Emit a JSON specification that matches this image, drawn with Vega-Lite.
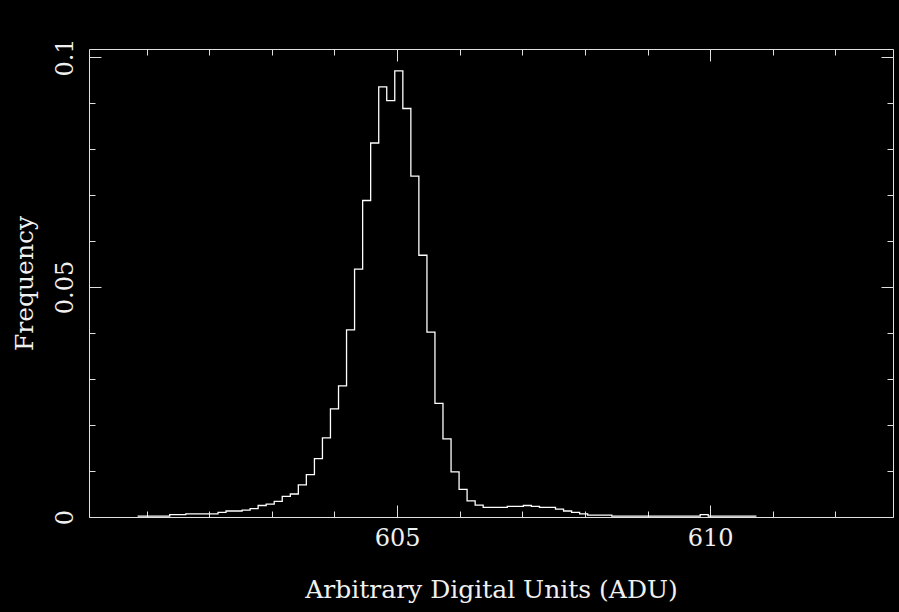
{
  "$schema": "https://vega.github.io/schema/vega-lite/v6.json",
  "width": 804,
  "height": 468,
  "autosize": {"type": "none"},
  "padding": {"left": 89, "top": 49, "right": 6, "bottom": 95},
  "background": "black",
  "config": {
    "view": {"stroke": null},
    "font": "DejaVu Serif",
    "axis": {
      "domainColor": "#e0e0e0",
      "domainWidth": 1,
      "tickColor": "#e0e0e0",
      "tickWidth": 1,
      "labelColor": "#f0f0f0",
      "titleColor": "#f0f0f0",
      "labelFont": "DejaVu Serif",
      "titleFont": "DejaVu Serif",
      "labelFontSize": 24,
      "titleFontSize": 25,
      "titleFontWeight": "normal",
      "grid": false
    }
  },
  "data": {
    "values": [
      {"x": 600.856, "y": 0.0002},
      {"x": 600.984, "y": 0.0002},
      {"x": 601.113, "y": 0.0002},
      {"x": 601.241, "y": 0.0002},
      {"x": 601.369, "y": 0.0005},
      {"x": 601.498, "y": 0.0005},
      {"x": 601.626, "y": 0.0007},
      {"x": 601.754, "y": 0.0007},
      {"x": 601.883, "y": 0.0007},
      {"x": 602.011, "y": 0.0007},
      {"x": 602.140, "y": 0.0010},
      {"x": 602.268, "y": 0.0013},
      {"x": 602.396, "y": 0.0013},
      {"x": 602.525, "y": 0.0015},
      {"x": 602.653, "y": 0.0018},
      {"x": 602.781, "y": 0.0025},
      {"x": 602.910, "y": 0.0028},
      {"x": 603.038, "y": 0.0034},
      {"x": 603.166, "y": 0.0045},
      {"x": 603.295, "y": 0.0050},
      {"x": 603.423, "y": 0.0070},
      {"x": 603.551, "y": 0.0092},
      {"x": 603.680, "y": 0.0127},
      {"x": 603.808, "y": 0.0172},
      {"x": 603.936, "y": 0.0235},
      {"x": 604.065, "y": 0.0285},
      {"x": 604.193, "y": 0.0407},
      {"x": 604.321, "y": 0.0539},
      {"x": 604.450, "y": 0.0688},
      {"x": 604.578, "y": 0.0813},
      {"x": 604.707, "y": 0.0935},
      {"x": 604.835, "y": 0.0905},
      {"x": 604.963, "y": 0.0970},
      {"x": 605.092, "y": 0.0888},
      {"x": 605.220, "y": 0.0741},
      {"x": 605.348, "y": 0.0569},
      {"x": 605.477, "y": 0.0402},
      {"x": 605.605, "y": 0.0247},
      {"x": 605.733, "y": 0.0170},
      {"x": 605.862, "y": 0.0098},
      {"x": 605.990, "y": 0.0060},
      {"x": 606.118, "y": 0.0035},
      {"x": 606.247, "y": 0.0026},
      {"x": 606.375, "y": 0.0021},
      {"x": 606.503, "y": 0.0021},
      {"x": 606.632, "y": 0.0021},
      {"x": 606.760, "y": 0.0023},
      {"x": 606.888, "y": 0.0023},
      {"x": 607.017, "y": 0.0025},
      {"x": 607.145, "y": 0.0023},
      {"x": 607.274, "y": 0.0021},
      {"x": 607.402, "y": 0.0021},
      {"x": 607.530, "y": 0.0017},
      {"x": 607.659, "y": 0.0013},
      {"x": 607.787, "y": 0.0010},
      {"x": 607.915, "y": 0.0007},
      {"x": 608.044, "y": 0.0004},
      {"x": 608.172, "y": 0.0004},
      {"x": 608.300, "y": 0.0004},
      {"x": 608.429, "y": 0.0002},
      {"x": 608.557, "y": 0.0002},
      {"x": 608.685, "y": 0.0002},
      {"x": 608.814, "y": 0.0002},
      {"x": 608.942, "y": 0.0002},
      {"x": 609.070, "y": 0.0002},
      {"x": 609.199, "y": 0.0002},
      {"x": 609.327, "y": 0.0002},
      {"x": 609.455, "y": 0.0002},
      {"x": 609.584, "y": 0.0002},
      {"x": 609.712, "y": 0.0002},
      {"x": 609.841, "y": 0.0005},
      {"x": 609.969, "y": 0.0002},
      {"x": 610.097, "y": 0.0002},
      {"x": 610.226, "y": 0.0002},
      {"x": 610.354, "y": 0.0002},
      {"x": 610.482, "y": 0.0002},
      {"x": 610.611, "y": 0.0002},
      {"x": 610.739, "y": 0.0002}
    ]
  },
  "layer": [
    {
      "mark": {"type": "line", "interpolate": "step-after", "color": "#ffffff", "strokeWidth": 1.3},
      "encoding": {
        "x": {
          "field": "x",
          "type": "quantitative",
          "scale": {"domain": [600.08, 612.92], "nice": false, "zero": false},
          "axis": {
            "orient": "bottom",
            "values": [601, 602, 603, 604, 605, 606, 607, 608, 609, 610, 611, 612],
            "tickSize": {"condition": {"test": "datum.value % 5 === 0", "value": -12}, "value": -6},
            "labelExpr": "datum.value % 5 === 0 ? datum.label : ''",
            "labelPadding": 21,
            "title": "Arbitrary Digital Units (ADU)",
            "titlePadding": 27
          }
        },
        "y": {
          "field": "y",
          "type": "quantitative",
          "scale": {"domain": [0, 0.10174], "nice": false, "zero": false},
          "axis": {
            "orient": "left",
            "values": [0, 0.01, 0.02, 0.03, 0.04, 0.05, 0.06, 0.07, 0.08, 0.09, 0.1],
            "tickSize": {"condition": {"test": "round(datum.value * 100) % 5 === 0", "value": -12}, "value": -6},
            "labelExpr": "round(datum.value * 100) === 0 ? '0' : round(datum.value * 100) === 5 ? '0.05' : round(datum.value * 100) === 10 ? '0.1' : ''",
            "labelAngle": -90,
            "labelAlign": "center",
            "labelBaseline": "bottom",
            "labelPadding": 24,
            "title": "Frequency",
            "titlePadding": 16
          }
        }
      }
    },
    {
      "mark": {"type": "line", "interpolate": "step-after", "color": "#ffffff", "opacity": 0},
      "encoding": {
        "x": {
          "field": "x",
          "type": "quantitative",
          "scale": {"domain": [600.08, 612.92], "nice": false, "zero": false},
          "axis": {
            "orient": "top",
            "values": [601, 602, 603, 604, 605, 606, 607, 608, 609, 610, 611, 612],
            "tickSize": {"condition": {"test": "datum.value % 5 === 0", "value": -12}, "value": -6},
            "labels": false,
            "title": null
          }
        },
        "y": {
          "field": "y",
          "type": "quantitative",
          "scale": {"domain": [0, 0.10174], "nice": false, "zero": false},
          "axis": {
            "orient": "right",
            "values": [0, 0.01, 0.02, 0.03, 0.04, 0.05, 0.06, 0.07, 0.08, 0.09, 0.1],
            "tickSize": {"condition": {"test": "round(datum.value * 100) % 5 === 0", "value": -12}, "value": -6},
            "labels": false,
            "title": null
          }
        }
      }
    }
  ],
  "resolve": {"axis": {"x": "independent", "y": "independent"}}
}
